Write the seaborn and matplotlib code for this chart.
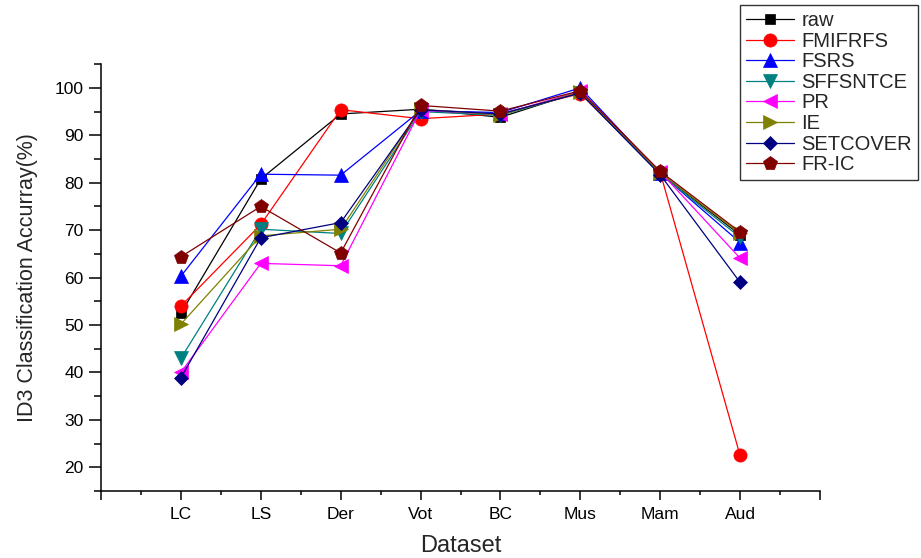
import matplotlib
matplotlib.use("Agg")
import matplotlib.pyplot as plt
from matplotlib.ticker import MultipleLocator, FixedLocator, FixedFormatter
import seaborn as sns
import pandas as pd

# Datasets on the x axis
datasets = ["LC", "LS", "Der", "Vot", "BC", "Mus", "Mam", "Aud"]

# ID3 classification accuracy (%) per feature-selection method
raw       = [52.5, 80.8, 94.5, 95.5, 93.8, 99.2, 82.0, 69.0]
fmifrfs   = [54.0, 71.2, 95.4, 93.5, 94.5, 98.8, 82.2, 22.5]
fsrs      = [60.3, 81.8, 81.6, 95.2, 94.8, 100.0, 82.0, 67.4]
sffsntce  = [43.0, 70.2, 69.3, 95.0, 94.2, 99.0, 81.8, 68.5]
pr        = [40.0, 63.0, 62.5, 95.3, 94.4, 99.3, 82.3, 64.1]
ie        = [50.2, 68.8, 70.2, 95.5, 94.3, 99.1, 82.1, 69.3]
setcover  = [38.9, 68.4, 71.6, 95.4, 94.5, 98.9, 81.7, 59.0]
fr_ic     = [64.4, 75.0, 65.2, 96.3, 95.1, 99.4, 82.4, 69.6]

methods = ["raw", "FMIFRFS", "FSRS", "SFFSNTCE", "PR", "IE", "SETCOVER", "FR-IC"]
series = [raw, fmifrfs, fsrs, sffsntce, pr, ie, setcover, fr_ic]

colors = ["#000000", "#FF0000", "#0000FF", "#008080",
          "#FF00FF", "#808000", "#000080", "#800000"]
markers = ["s", "o", "^", "v", "<", ">", "D", "p"]
msizes = [7.5, 9.5, 10, 10, 10, 10, 7.5, 10.5]

sns.set_style("ticks")
plt.rcParams["font.family"] = ["Liberation Sans", "DejaVu Sans"]

fig = plt.figure(figsize=(9.21, 5.58), dpi=100)
ax = fig.add_axes([0.1097, 0.120, 0.7806, 0.765])

positions = list(range(1, len(datasets) + 1))
for name, vals, col, mk, ms in zip(methods, series, colors, markers, msizes):
    df = pd.DataFrame({"pos": positions, "acc": vals})
    sns.lineplot(data=df, x="pos", y="acc", color=col, marker=mk,
                 markersize=ms, markeredgecolor=col, markeredgewidth=0.5,
                 linewidth=0.9, label=name, ax=ax, sort=False)

ax.set_xlim(0, 9)
ax.set_ylim(15, 105)

ax.xaxis.set_major_locator(FixedLocator(range(0, 10)))
ax.xaxis.set_major_formatter(FixedFormatter([""] + datasets + [""]))
ax.xaxis.set_minor_locator(MultipleLocator(0.5))
ax.yaxis.set_major_locator(FixedLocator(range(20, 101, 10)))
ax.yaxis.set_minor_locator(MultipleLocator(5))

ax.tick_params(axis="x", which="major", length=6.5, width=1.1, pad=5,
               labelsize=12.5, color="black", labelcolor="black")
ax.tick_params(axis="x", which="minor", length=3.2, width=1.1, color="black")
ax.tick_params(axis="y", which="major", length=8.5, width=1.1, pad=4,
               labelsize=12.5, color="black", labelcolor="black")
ax.tick_params(axis="y", which="minor", length=4.8, width=1.1, color="black")

for side in ["top", "right"]:
    ax.spines[side].set_visible(False)
for side in ["left", "bottom"]:
    ax.spines[side].set_linewidth(1.1)
    ax.spines[side].set_color("black")

ax.set_xlabel("Dataset", fontsize=17, labelpad=9)
ax.set_ylabel("ID3 Classification Accurray(%)", fontsize=15.5, labelpad=12)

handles, labels = ax.get_legend_handles_labels()
ax.get_legend().remove()
leg = fig.legend(handles, labels, loc="upper right",
                 bbox_to_anchor=(918 / 921, 1 - 5 / 558),
                 frameon=True, fancybox=False, shadow=False,
                 fontsize=14.5, handlelength=2.4, handletextpad=0.35,
                 labelspacing=0.08, borderpad=0.3, borderaxespad=0)
leg.get_frame().set_edgecolor("black")
leg.get_frame().set_linewidth(1.0)

fig.savefig("out.png", dpi=100, facecolor="white")
